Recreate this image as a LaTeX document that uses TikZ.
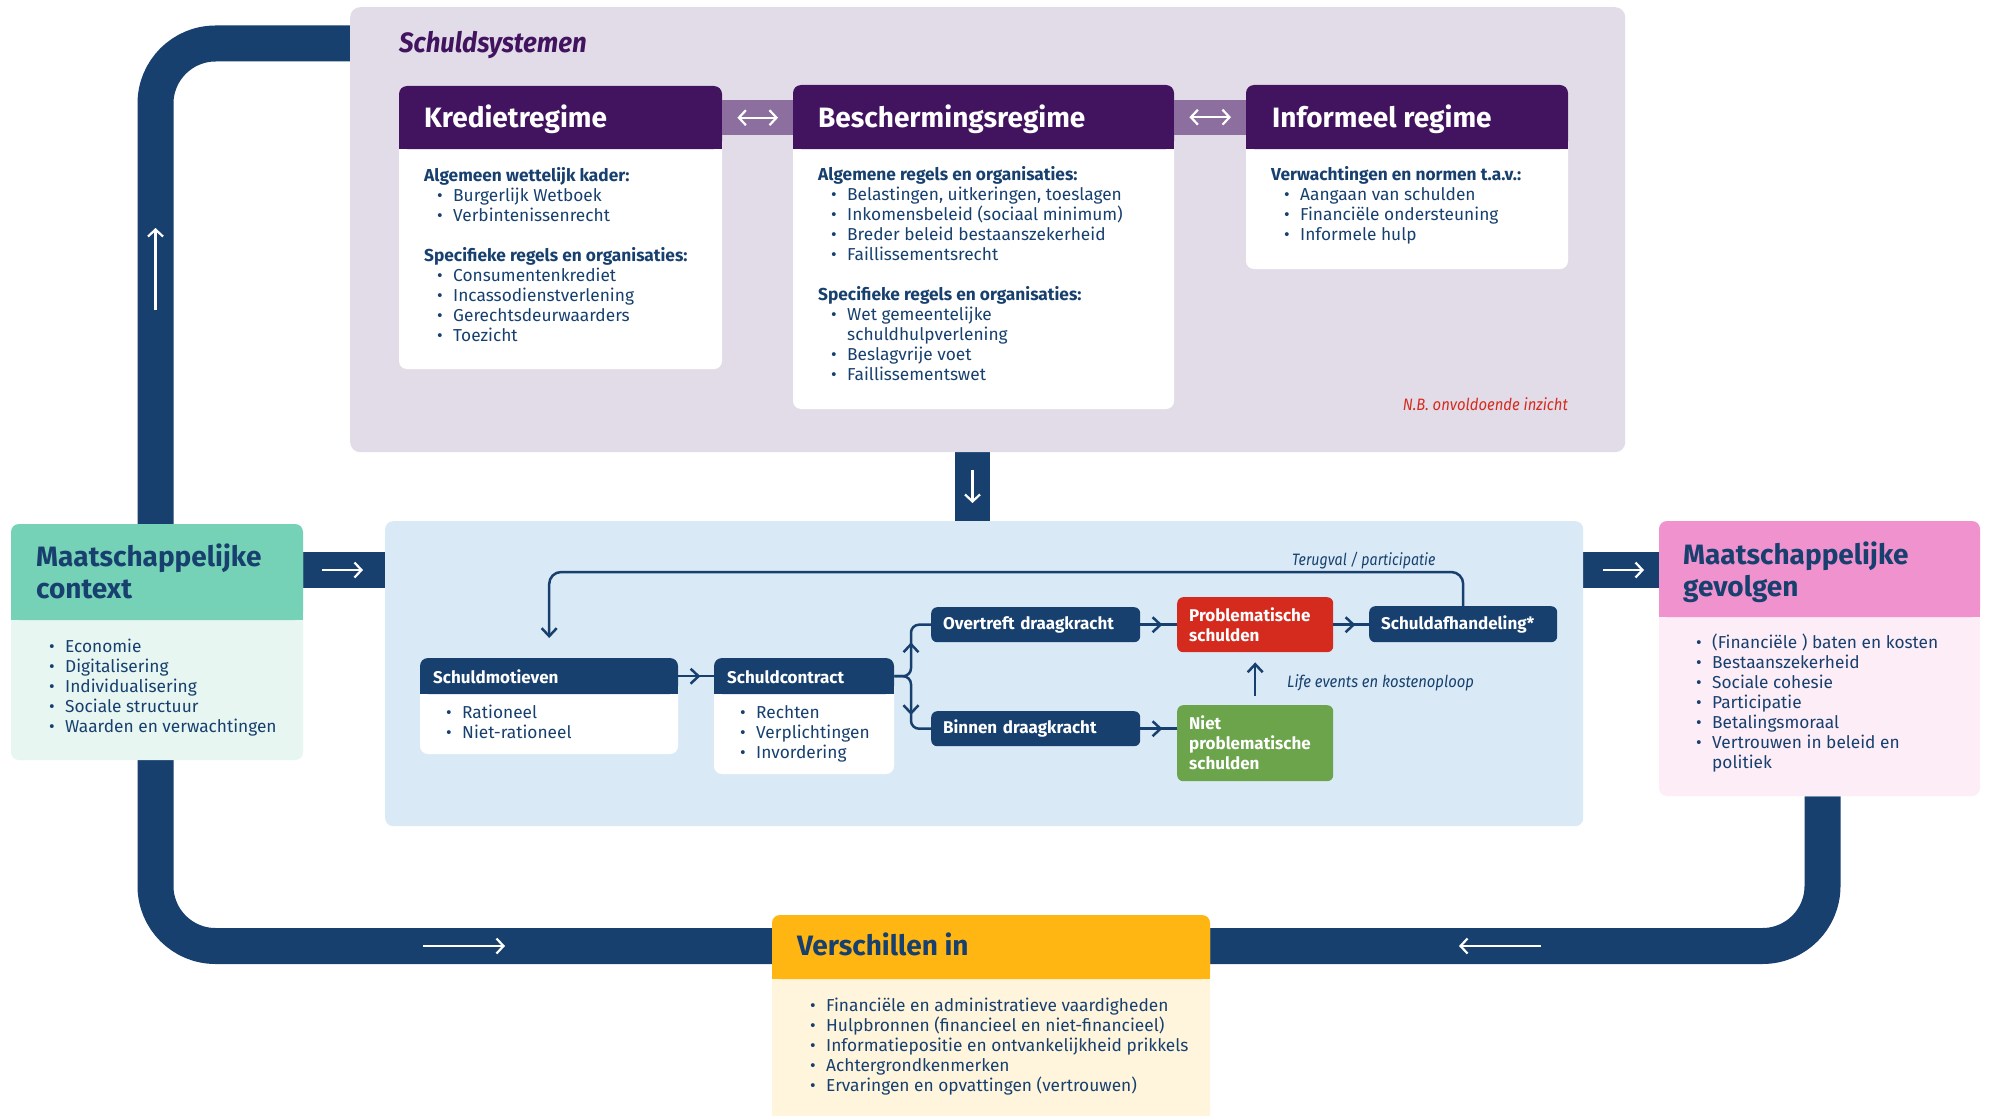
\documentclass[tikz,border=0pt]{standalone}
\usepackage{fontspec}
\setmainfont{Fira Sans}
\usepackage{graphicx}
\usetikzlibrary{arrows.meta,decorations.markings}
\definecolor{navy}{HTML}{17406F}
\definecolor{vio}{HTML}{42145F}
\definecolor{viobg}{HTML}{E2DCE8}
\definecolor{viomid}{HTML}{8C6F9E}
\definecolor{lblue}{HTML}{D9EAF6}
\definecolor{mintH}{HTML}{76D2B6}
\definecolor{mintB}{HTML}{E7F6F1}
\definecolor{pinkH}{HTML}{F092CD}
\definecolor{pinkB}{HTML}{FDEDF6}
\definecolor{yelH}{HTML}{FFB612}
\definecolor{yelB}{HTML}{FFF4DC}
\definecolor{redbox}{HTML}{D52B1E}
\definecolor{greenbox}{HTML}{6BA44A}
\definecolor{nbred}{HTML}{D52B1E}
\pgfdeclarelayer{bg}
\pgfsetlayers{bg,main}
\newcommand\bu{\hspace*{13pt}\makebox[16pt][l]{\textbullet}}
\newcommand\hangin{\hspace*{29pt}}
\newcommand\fs{\rule{0pt}{14pt}}
\newcommand\ft{\rule{0pt}{21pt}}
\tikzset{
  geo/.style={rectangle, inner sep=0pt, anchor=north west},
  band/.style={line width=36pt, draw=navy},
  wtip/.style={white, line width=2.2pt, -{Straight Barb[length=7pt,width=15pt]}},
  wdtip/.style={white, line width=2.2pt, {Straight Barb[length=7pt,width=15pt]}-{Straight Barb[length=7pt,width=15pt]}},
  flow/.style={draw=navy, line width=2.5pt},
  endtip/.style={-{Straight Barb[length=8pt,width=15pt]}},
  midtip/.style={postaction={decorate}, decoration={markings, mark=at position #1 with {\arrow[navy, line width=2.5pt]{Straight Barb[length=8pt,width=15pt]}}}},
  body/.style={inner sep=0pt, anchor=north west, align=left, text=navy, font=\fontsize{17.3}{20}\selectfont},
  bigttl/.style={inner sep=0pt, anchor=north west, align=left, text=navy, font=\fontsize{28}{32}\selectfont\bfseries},
  vttl/.style={inner sep=0pt, anchor=base west, text=white, font=\fontsize{28}{34}\selectfont\bfseries},
  fttl/.style={inner sep=0pt, anchor=base west, text=white, font=\fontsize{17}{20}\selectfont\bfseries},
  flowbox/.style={rectangle, rounded corners=6pt, fill=navy, text=white, font=\fontsize{17}{20}\selectfont\bfseries, inner xsep=12pt, inner ysep=0pt, align=left, anchor=north west},
  itlab/.style={inner sep=0pt, anchor=base west, text=navy, font=\fontsize{16.5}{20}\selectfont\itshape},
}
\newcommand\twobox[8]{%
  \fill[#8, rounded corners=8pt] (#2,#3) rectangle (#4,#6);
  \fill[#7, rounded corners=8pt] (#2,#3) rectangle (#4,#5);
  \fill[#7] (#2,#5-10) rectangle (#4,#5);
  \node[geo, minimum width={#4pt-#2pt}, minimum height={#5pt-#3pt}] (#1h) at (#2,#3) {};
  \node[geo, minimum width={#4pt-#2pt}, minimum height={#6pt-#3pt}] (#1) at (#2,#3) {};
}
\begin{document}
\begin{tikzpicture}[x=1pt,y=-1pt]
\useasboundingbox (0,0) rectangle (1990,1116);

% ---------------- Schuldsystemen
\node[geo, fill=viobg, rounded corners=10pt, minimum width=1275pt, minimum height=445pt] (psys) at (350,7) {};
\node[inner sep=0pt, anchor=base west, text=vio, font=\fontsize{28}{34}\selectfont\bfseries\itshape] (tsys) at (399,53) {\scalebox{0.92}[1]{Schuldsystemen}};

\twobox{kr}{399}{86}{722}{149}{369}{vio}{white}
\twobox{be}{793}{85}{1174}{149}{409}{vio}{white}
\twobox{in}{1246}{85}{1568}{149}{269}{vio}{white}

\draw[line width=35pt, viomid] (krh.east) -- (krh.east -| beh.west);
\draw[line width=35pt, viomid] (beh.east) -- (beh.east -| inh.west);
\draw[wdtip] ([xshift=15pt]krh.east) -- ([xshift=-15pt]krh.east -| beh.west);
\draw[wdtip] ([xshift=15pt]beh.east) -- ([xshift=-15pt]beh.east -| inh.west);

\node[vttl] (tkr) at (424,127) {Kredietregime};
\node[vttl] (tbe) at (818,127) {Beschermingsregime};
\node[vttl] (tin) at (1272,127) {Informeel regime};

\node[body] (bkr) at (424,167) {\fs\textbf{Algemeen wettelijk kader:}\\
 \bu Burgerlijk Wetboek\\
 \bu Verbintenissenrecht\\[20pt]
 \textbf{Specifieke regels en organisaties:}\\
 \bu Consumentenkrediet\\
 \bu Incassodienstverlening\\
 \bu Gerechtsdeurwaarders\\
 \bu Toezicht};
\node[body] (bbe) at (818,166) {\fs\textbf{Algemene regels en organisaties:}\\
 \bu Belastingen, uitkeringen, toeslagen\\
 \bu Inkomensbeleid (sociaal minimum)\\
 \bu Breder beleid bestaanszekerheid\\
 \bu Faillissementsrecht\\[20pt]
 \textbf{Specifieke regels en organisaties:}\\
 \bu Wet gemeentelijke\\
 \hangin schuldhulpverlening\\
 \bu Beslagvrije voet\\
 \bu Faillissementswet};
\node[body] (bin) at (1271,166) {\fs\textbf{Verwachtingen en normen t.a.v.:}\\
 \bu Aangaan van schulden\\
 \bu Financiële ondersteuning\\
 \bu Informele hulp};

\node[inner sep=0pt, anchor=base east, text=nbred, font=\fontsize{16.5}{20}\selectfont\itshape] (nb) at (1568,410) {\scalebox{0.9}[1]{N.B. onvoldoende inzicht}};

% ---------------- inner flow
\node[geo, fill=lblue, rounded corners=8pt, minimum width=1198pt, minimum height=305pt] (lb) at (385,521) {};

\twobox{sm}{420}{658}{678}{694}{754}{navy}{white}
\twobox{sc}{714}{658}{894}{694}{774}{navy}{white}
\node[fttl] (tsm) at (433,683) {Schuldmotieven};
\node[fttl] (tsc) at (727,683) {Schuldcontract};
\node[body] (bsm) at (433,704) {\fs\bu Rationeel\\ \bu Niet-rationeel};
\node[body] (bsc) at (727,704) {\fs\bu Rechten\\ \bu Verplichtingen\\ \bu Invordering};

\node[flowbox, text width=185pt, minimum height=35pt] (ov) at (931,607) {Overtreft draagkracht};
\node[flowbox, text width=185pt, minimum height=35pt] (bi) at (931,711) {Binnen draagkracht};
\node[flowbox, fill=redbox, text width=132pt, minimum height=55pt] (red) at (1177,597) {Problematische\\schulden};
\node[flowbox, fill=greenbox, text width=132pt, minimum height=76pt] (grn) at (1177,705) {Niet\\problematische\\schulden};
\node[flowbox, text width=164pt, minimum height=36pt] (sa) at (1369,606) {Schuldafhandeling*};

\draw[flow, midtip=22pt] (smh.east) -- (sch.west);
\draw[flow, rounded corners=8pt, midtip=47pt] (sch.east) -| ([xshift=-20pt]ov.west) -- (ov.west);
\draw[flow, rounded corners=8pt, midtip=52pt] (sch.east) -| ([xshift=-20pt]bi.west) -- (bi.west);
\draw[flow, midtip=22pt] (ov.east) -- (red.west);
\draw[flow, midtip=22pt] (bi.east) -- (bi.east -| grn.west);
\draw[flow, midtip=22pt] (red.east) -- (red.east -| sa.west);
\draw[flow, endtip, shorten <=9pt, shorten >=10pt] (grn.north) -- (red.south);
\draw[flow, endtip, rounded corners=12pt, shorten >=20pt] (sa.north) |- (smh.north |- 0,572) -- (smh.north);

\node[itlab] (lterug) at (1292,565) {\scalebox{0.86}[1]{Terugval / participatie}};
\node[itlab] (llife) at (1287,687) {\scalebox{0.9}[1]{Life events en kostenoploop}};

% ---------------- outer boxes
\twobox{ctx}{11}{524}{303}{620}{760}{mintH}{mintB}
\twobox{gev}{1659}{521}{1980}{617}{796}{pinkH}{pinkB}
\twobox{ver}{772}{915}{1210}{979}{1130}{yelH}{yelB}

\node[bigttl] (tctx) at (36,544) {\ft Maatschappelijke\\context};
\node[bigttl] (tgev) at (1683,542) {\ft Maatschappelijke\\gevolgen};
\node[bigttl, anchor=base west] (tver) at (797,955) {Verschillen in};

\node[body] (bctx) at (36,638) {\fs\bu Economie\\ \bu Digitalisering\\ \bu Individualisering\\ \bu Sociale structuur\\ \bu Waarden en verwachtingen};
\node[body] (bgev) at (1683,634) {\fs\bu (Financiële ) baten en kosten\\ \bu Bestaanszekerheid\\ \bu Sociale cohesie\\ \bu Participatie\\ \bu Betalingsmoraal\\ \bu Vertrouwen in beleid en\\ \hangin politiek};
\node[body] (bver) at (797,997) {\fs\bu Financiële en administratieve vaardigheden\\ \bu Hulpbronnen (financieel en niet-financieel)\\ \bu Informatiepositie en ontvankelijkheid prikkels\\ \bu Achtergrondkenmerken\\ \bu Ervaringen en opvattingen (vertrouwen)};

% ---------------- bands (background)
\begin{pgfonlayer}{bg}
\fill[white] (0,0) rectangle (1990,1116);
\draw[band, rounded corners=60pt] (psys.west |- 0,43.5) -- (155.5,43.5) -- (155.5,946) -- (1822.5,946) -- (gev.south -| 1822.5,0);
\draw[band] (ctx.east |- 0,570) -- (lb.west |- 0,570);
\draw[band] (lb.east |- 0,570) -- (gev.west |- 0,570);
\draw[line width=35pt, draw=navy] (psys.south -| 972.5,0) -- (lb.north -| 972.5,0);
\draw[wtip] (155.5,310) -- (155.5,228);
\draw[wtip] (423,946) -- (505,946);
\draw[wtip] (1541,946) -- (1459,946);
\draw[wtip] ([xshift=19pt]ctx.east |- 0,570) -- ([xshift=-22pt]lb.west |- 0,570);
\draw[wtip] ([xshift=20pt]lb.east |- 0,570) -- ([xshift=-15pt]gev.west |- 0,570);
\draw[wtip] (972.5,470) -- (972.5,503);
\end{pgfonlayer}
\end{tikzpicture}
\end{document}
